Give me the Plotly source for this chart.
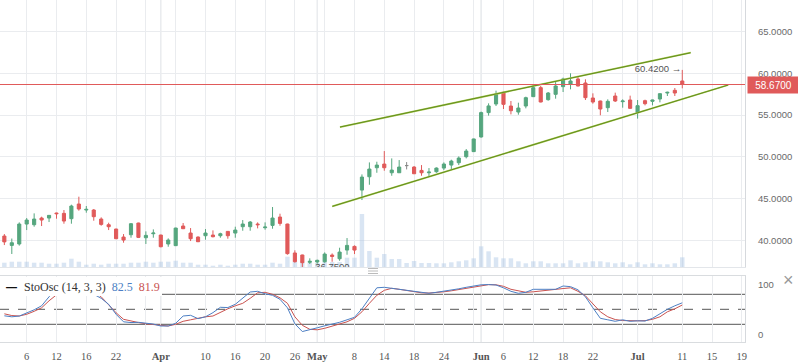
import plotly.graph_objects as go

# ---------------- data ----------------
idx = list(range(92))
opens = [40.50,39.38,39.55,41.94,41.86,42.66,42.66,43.26,43.22,42.58,44.34,43.62,43.62,42.54,41.86,41.34,40.38,40.66,42.06,40.30,
         40.78,40.62,39.55,39.35,41.70,40.86,40.38,40.54,40.62,40.54,41.06,40.86,41.62,41.62,41.94,41.50,41.78,42.78,41.94,38.47,
         38.23,37.35,37.39,37.42,38.22,37.78,38.82,39.26,46.01,47.61,48.69,49.13,48.09,48.09,48.95,48.77,48.37,48.09,48.21,48.65,
         49.01,49.29,50.01,50.62,52.38,55.30,56.33,57.73,56.09,55.37,56.09,57.21,58.29,56.85,57.49,58.41,58.73,59.33,58.85,57.05,
         56.69,55.89,57.29,56.61,56.81,55.30,56.73,56.65,56.93,57.65,57.97,59.09]
highs = [40.74,40.20,42.14,42.66,43.22,42.82,43.00,43.30,43.62,44.26,45.22,44.10,43.74,42.74,42.10,41.38,40.74,42.06,42.10,41.06,
         41.30,40.66,40.22,41.50,42.06,41.46,40.46,41.34,41.18,40.90,41.10,41.62,42.42,42.30,42.14,42.14,43.98,43.18,41.98,38.79,
         38.27,37.83,37.67,38.54,38.42,39.10,40.26,39.38,47.89,49.33,49.41,50.69,49.81,49.61,49.37,48.89,49.01,48.65,48.73,49.33,
         49.65,50.05,50.93,52.18,55.42,56.41,57.93,57.81,56.69,56.49,57.21,58.65,58.49,57.77,58.97,59.49,60.01,59.69,59.29,57.61,
         56.73,56.89,57.69,56.89,57.33,56.81,56.85,56.85,57.61,57.81,58.25,60.42]
lows = [39.42,38.35,39.35,41.22,41.62,41.70,42.18,42.58,41.98,41.98,43.54,43.30,42.34,41.74,41.22,40.14,39.70,40.30,40.26,39.55,
        40.30,39.15,39.22,39.30,41.34,39.90,39.78,40.06,40.34,40.30,40.18,40.30,41.14,41.14,41.42,41.26,41.38,41.74,38.27,37.31,
        36.75,37.15,37.19,37.30,37.42,37.54,38.26,38.34,44.82,46.65,48.09,48.33,47.73,48.09,48.49,47.97,47.73,47.61,48.09,48.41,
        48.49,49.01,49.81,50.58,52.30,54.94,56.09,55.73,55.09,55.05,55.81,57.17,56.53,56.73,56.97,57.77,58.09,58.45,56.81,56.37,
        54.98,55.37,56.57,55.89,55.77,54.58,56.17,56.17,56.53,57.29,57.29,58.21]
closes = [39.80,39.70,41.94,42.42,42.54,42.42,42.98,43.18,42.30,44.10,43.74,43.70,42.82,41.90,41.62,40.18,40.02,41.98,40.34,40.58,
          40.86,39.22,40.02,41.46,41.38,40.18,39.82,40.86,40.42,40.78,40.54,41.22,41.94,42.18,41.86,41.58,42.66,42.02,38.39,37.43,
          37.31,37.47,37.59,38.34,38.06,38.58,39.38,38.82,47.57,48.53,49.01,48.69,48.41,48.77,48.95,47.97,48.09,48.17,48.65,49.13,
          49.49,49.85,50.69,52.14,55.30,56.10,57.49,56.29,55.53,55.85,57.09,58.29,56.57,57.65,58.49,59.33,59.09,58.49,57.09,56.57,
          55.73,56.65,56.69,56.69,55.81,56.13,56.37,56.81,57.57,57.73,57.65,58.67]
volume_k = [430,530,530,530,430,430,330,330,430,830,530,230,330,230,330,330,330,430,430,530,
            430,530,530,630,430,430,230,230,130,230,130,230,330,330,230,230,430,330,1030,530,
            500,400,400,500,500,500,930,930,5300,1600,930,1300,800,800,400,600,400,400,370,370,
            470,570,670,870,2070,1570,970,870,870,570,370,570,570,370,370,370,670,370,470,570,
            570,470,370,470,270,470,270,370,270,270,370,970]
stoch_k = [37,35,36.5,42,49,57,75,90,95,95,93,88,80,72,60,40,25,23.5,24,22,
           20.5,16.6,16.6,22,36.6,38,31.3,35,43.3,54,53.5,60,73,84.6,86,81,78,70,53,21,
           5.5,8.6,13,17,20,24,29,34,51,72,93,94,92,90,87,85,83,82,84,86,
           88,91,94,97,99,99.5,98.6,93,86,82,84,90,90,90,90,96.6,95.3,89,75,53,
           32,29,26,29,26,27,26.5,32,41,50,57,63]
stoch_d = [41,37.5,36.6,40,46,53,67,79,88,92,93,91,85,75,59,43,30,26,23.5,21,
           19.5,18,16.6,20,26,29,32.5,35,36.6,44,51,57,62,72,83,84,80,73,62,35,
           18,10,9,12,16,21,25,32,45,62,78,88,92,90,87.5,85,83,82.5,83,85,
           87,89.5,92,95,98,99.3,99,96,90,86.6,84,85,87,89,90,91.5,93,86,77,62,
           45,35,29.5,27.5,26.6,27,27.3,30,35,45,51,58.6]
stoch_levels = [80, 50, 20]

tick_idx = [3, 7, 11, 15, 19, 21, 23, 27, 31, 35, 39, 42, 43, 47, 51, 55, 59, 63, 64, 67, 71, 75, 79, 83, 85, 87, 91, 95, 99]
tick_text = ["6", "12", "16", "22", "", "<b>Apr</b>", "", "10", "16", "20", "26", "<b>May</b>", "", "8", "14", "18", "24", "",
             "<b>Jun</b>", "6", "12", "18", "22", "", "<b>Jul</b>", "", "11", "15", "19"]
month_idx = [21, 42, 64, 85]
price_ticks = [40, 45, 50, 55, 60, 65]

trend_upper_x = [45.05, 92.13]
trend_upper_y = [53.57, 62.48]
trend_lower_x = [44.02, 97.17]
trend_lower_y = [44.06, 58.61]

last_price = closes[-1]
max_high = max(highs)
min_low = min(lows)
i_max = highs.index(max_high)
i_min = lows.index(min_low)

GREEN = "#55a67e"
RED = "#e05a5a"
SERIF = "Liberation Serif"
SANS = "Liberation Sans"

fig = go.Figure()

# volume (base axis y)
fig.add_trace(go.Bar(x=idx, y=volume_k, marker=dict(color="rgba(170,198,228,0.45)", line=dict(width=0)),
                     xaxis="x", yaxis="y", hoverinfo="skip"))

# candles (overlay axis y3)
normal = [i for i in idx if opens[i] != closes[i]]
doji = [i for i in idx if opens[i] == closes[i]]
fig.add_trace(go.Candlestick(
    x=[idx[i] for i in normal], open=[opens[i] for i in normal], high=[highs[i] for i in normal],
    low=[lows[i] for i in normal], close=[closes[i] for i in normal],
    increasing=dict(line=dict(color=GREEN, width=1), fillcolor=GREEN),
    decreasing=dict(line=dict(color=RED, width=1), fillcolor=RED),
    whiskerwidth=0, xaxis="x", yaxis="y3"))
fig.add_trace(go.Candlestick(
    x=[idx[i] for i in doji], open=[opens[i] for i in doji], high=[highs[i] for i in doji],
    low=[lows[i] for i in doji], close=[closes[i] for i in doji],
    increasing=dict(line=dict(color="#888888", width=1), fillcolor="#888888"),
    decreasing=dict(line=dict(color="#888888", width=1), fillcolor="#888888"),
    whiskerwidth=0, xaxis="x", yaxis="y3"))

# trend lines
for tx, ty in [(trend_upper_x, trend_upper_y), (trend_lower_x, trend_lower_y)]:
    fig.add_trace(go.Scatter(x=tx, y=ty, mode="lines", line=dict(color="#a9c94e", width=1.8),
                             xaxis="x", yaxis="y3", hoverinfo="skip"))
    fig.add_trace(go.Scatter(x=tx, y=ty, mode="lines", line=dict(color="#4f7d14", width=0.8),
                             xaxis="x", yaxis="y3", hoverinfo="skip"))

# high / low markers text
fig.add_trace(go.Scatter(x=[i_max - 0.15], y=[max_high], mode="text", text=[f"{max_high:.4f} \u2192"],
                         textposition="middle left", textfont=dict(family=SANS, size=9.5, color="#555555"),
                         xaxis="x", yaxis="y3", cliponaxis=True, hoverinfo="skip"))
fig.add_trace(go.Scatter(x=[i_min + 0.1], y=[min_low], mode="text", text=[f"\u2190 {min_low:.4f}"],
                         textposition="middle right", textfont=dict(family=SANS, size=9.5, color="#555555"),
                         xaxis="x", yaxis="y3", cliponaxis=True, hoverinfo="skip"))

# stochastic
fig.add_trace(go.Scatter(x=idx, y=stoch_d, mode="lines", line=dict(color="#c9524f", width=1),
                         xaxis="x2", yaxis="y2", hoverinfo="skip"))
fig.add_trace(go.Scatter(x=idx, y=stoch_k, mode="lines", line=dict(color="#4d7fc4", width=1),
                         xaxis="x2", yaxis="y2", hoverinfo="skip"))

PLOT_W = 745.0
PLOT_H = 342.0
main_bottom = (PLOT_H - 267) / PLOT_H
stoch_top = (PLOT_H - 276) / PLOT_H

GRID = "#eaecef"
fig.update_layout(
    width=798, height=363, margin=dict(l=0, r=53, t=0, b=21),
    paper_bgcolor="white", plot_bgcolor="white", showlegend=False,
    font=dict(family=SANS, size=10, color="#666666"),
    boxgap=0.4, bargap=0.4,
    xaxis=dict(range=[-0.584, 99.42], tickvals=tick_idx, showticklabels=False, showgrid=True, gridcolor=GRID,
               zeroline=False, showline=True, linecolor="#e3e6ea", rangeslider=dict(visible=False), anchor="y",
               ticks=""),
    xaxis2=dict(matches="x", anchor="y2", tickvals=tick_idx, ticktext=tick_text, showgrid=True, gridcolor=GRID,
                zeroline=False, showline=True, mirror=True, linecolor="#d9dcdf", ticks="", ticklabelstandoff=4,
                tickfont=dict(family=SERIF, size=10.5, color="#555555"), rangeslider=dict(visible=False)),
    yaxis=dict(domain=[main_bottom, 1], range=[0, max(volume_k) / 0.1985], visible=False, fixedrange=True),
    yaxis3=dict(overlaying="y", side="right", anchor="x", range=[36.79, 68.80], tickvals=price_ticks,
                tickformat=".4f", showgrid=True, gridcolor=GRID, zeroline=False, showline=True,
                linecolor="#d6d9dd", ticks="", ticklabelstandoff=10,
                tickfont=dict(family=SANS, size=9.5, color="#6a6a6a")),
    yaxis2=dict(domain=[0, stoch_top], range=[-15.4, 116.6], side="right", tickvals=[0, 100], showgrid=False,
                zeroline=False, showline=True, linecolor="#d6d9dd", ticks="", ticklabelstandoff=10,
                tickfont=dict(family=SANS, size=9.5, color="#6a6a6a")),
)

shapes = []
# darker month gridlines
for m in month_idx:
    shapes.append(dict(type="line", xref="x", yref="y domain", x0=m, x1=m, y0=0, y1=1,
                       line=dict(color="#d4d8dc", width=1), layer="below"))
    shapes.append(dict(type="line", xref="x2", yref="y2 domain", x0=m, x1=m, y0=0, y1=1,
                       line=dict(color="#d4d8dc", width=1), layer="below"))
# stochastic levels
for lv in stoch_levels:
    shapes.append(dict(type="line", xref="x2 domain", yref="y2", x0=0, x1=1, y0=lv, y1=lv,
                       line=dict(color="#555555", width=1, dash="dash" if lv == 50 else "solid"), layer="below"))
# last price line
shapes.append(dict(type="line", xref="x domain", yref="y3", x0=0, x1=1, y0=last_price, y1=last_price,
                   line=dict(color=RED, width=1), layer="above"))
# legend background box
shapes.append(dict(type="rect", xref="paper", yref="paper", x0=0, x1=162 / PLOT_W,
                   y0=(PLOT_H - 296) / PLOT_H, y1=(PLOT_H - 277) / PLOT_H,
                   fillcolor="white", line=dict(width=0), layer="above"))
# drag handle
for py in (268.5, 271, 273.5):
    shapes.append(dict(type="line", xref="paper", yref="paper", x0=368 / PLOT_W, x1=378 / PLOT_W,
                       y0=(PLOT_H - py) / PLOT_H, y1=(PLOT_H - py) / PLOT_H,
                       line=dict(color="#bbbbbb", width=1), layer="above"))
fig.update_layout(shapes=shapes)

ann = []
ann.append(dict(xref="paper", yref="y3", x=747 / PLOT_W, y=last_price, xanchor="left", yanchor="middle",
                text=f"{last_price:.4f}", showarrow=False, bgcolor=RED, width=49, height=14, borderpad=1,
                font=dict(family=SANS, size=10, color="white")))
ann.append(dict(xref="paper", yref="paper", x=4 / PLOT_W, y=(PLOT_H - 286.5) / PLOT_H, xanchor="left",
                yanchor="middle", text="<b>\u2014</b>", showarrow=False,
                font=dict(family=SANS, size=11, color="#111111")))
ann.append(dict(xref="paper", yref="paper", x=22 / PLOT_W, y=(PLOT_H - 286.5) / PLOT_H, xanchor="left",
                yanchor="middle", showarrow=False,
                text="StoOsc (14, 3, 3)  <span style='color:#4d7fc4'>82.5</span>  <span style='color:#c9524f'>81.9</span>",
                font=dict(family=SERIF, size=12, color="#333333")))
ann.append(dict(xref="paper", yref="paper", x=788 / PLOT_W, y=(PLOT_H - 280) / PLOT_H, xanchor="center",
                yanchor="middle", text="\u00d7", showarrow=False, font=dict(family=SANS, size=18, color="#999999")))
fig.update_layout(annotations=ann)

fig.write_html("out.html", config={"displayModeBar": False},
               post_script="document.body.style.margin='0';document.body.style.overflow='hidden';")
